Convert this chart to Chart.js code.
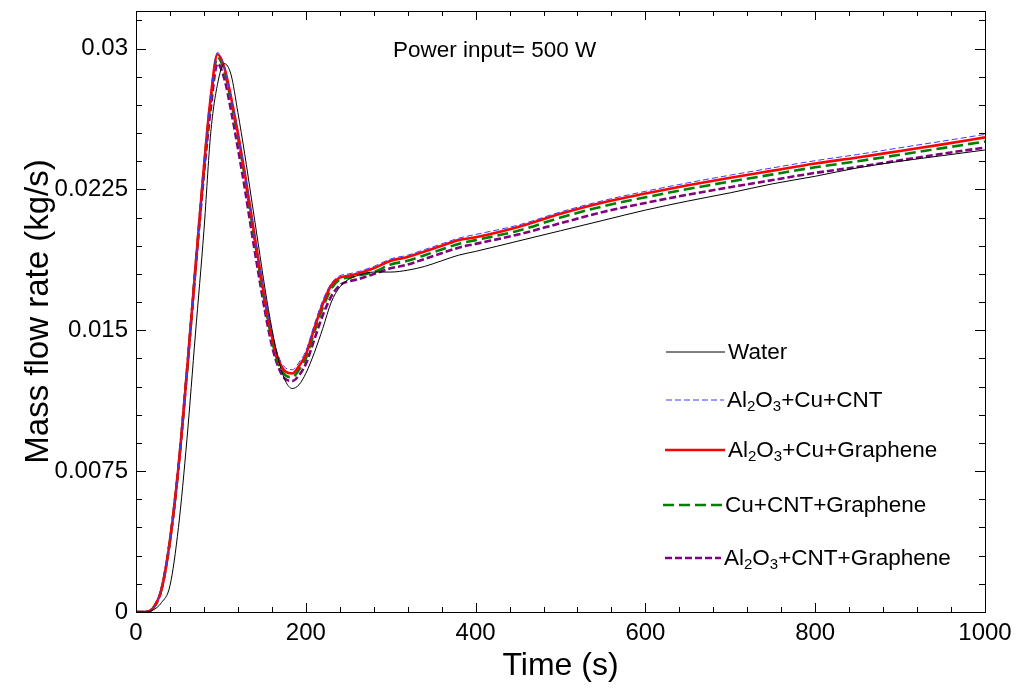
<!DOCTYPE html>
<html>
<head>
<meta charset="utf-8">
<script src="https://cdn.jsdelivr.net/npm/chart.js@4/dist/chart.umd.min.js"></script>
<style>
  html, body { margin: 0; padding: 0; background: #fff; }
  canvas { display: block; }
</style>
</head>
<body>
<canvas id="chart" width="1017" height="689"></canvas>
<script>
// ---- data ----
const timeS = [0, 10, 20, 30, 40, 50, 60, 70, 80, 88, 96, 104, 112, 120, 128, 136, 144, 152, 160, 168,
  176, 184, 192, 200, 210, 220, 230, 240, 250, 260, 280, 300, 320, 340, 360, 380, 400, 450, 500,
  550, 600, 650, 700, 750, 800, 850, 900, 950, 1000];

const water = [0, 0, 0.0001, 0.0005, 0.0014, 0.0045, 0.0092, 0.0148, 0.0203, 0.0255, 0.0281, 0.0292,
  0.0286, 0.0266, 0.0244, 0.0220, 0.0196, 0.0172, 0.0151, 0.0134, 0.0123, 0.0119, 0.0121, 0.0127,
  0.0138, 0.0151, 0.0165, 0.0173, 0.0177, 0.0179, 0.0181, 0.0181, 0.0182, 0.0184, 0.0187, 0.0190,
  0.0192, 0.01975, 0.0203, 0.02085, 0.0214, 0.02188, 0.02232, 0.0228, 0.0232, 0.02365, 0.0240,
  0.0243, 0.0246];

const alCuCnt = [0, 0, 0.0002, 0.0012, 0.0038, 0.0077, 0.0128, 0.0183, 0.0237, 0.0275, 0.0298, 0.0290,
  0.0274, 0.0256, 0.0235, 0.0212, 0.0189, 0.0167, 0.0149, 0.0136, 0.0130, 0.0129, 0.0133, 0.0139,
  0.0153, 0.0166, 0.0175, 0.0179, 0.0180, 0.0181, 0.0184, 0.0188, 0.0190, 0.0193, 0.0196, 0.0199,
  0.0201, 0.0206, 0.0213, 0.0219, 0.0224, 0.02285, 0.02326, 0.02365, 0.02403, 0.02436, 0.02472,
  0.02507, 0.02543];

const alCuGraphene = [0, 0, 0.0002, 0.0012, 0.0038, 0.0077, 0.0128, 0.0183, 0.0237, 0.0274, 0.0297, 0.0290,
  0.0274, 0.0255, 0.0234, 0.0211, 0.0188, 0.0166, 0.0147, 0.0134, 0.0128, 0.0127, 0.0131, 0.0137,
  0.0151, 0.0164, 0.0174, 0.0178, 0.0179, 0.0180, 0.0183, 0.0187, 0.0189, 0.0192, 0.0195, 0.0198,
  0.01995, 0.0205, 0.0212, 0.0218, 0.02228, 0.02272, 0.02312, 0.0235, 0.02388, 0.0242, 0.02455,
  0.0249, 0.02527];

const cuCntGraphene = [0, 0, 0.0002, 0.0012, 0.0038, 0.0077, 0.0128, 0.0183, 0.0236, 0.0273, 0.02955, 0.0288,
  0.0272, 0.0253, 0.0232, 0.0209, 0.0186, 0.0164, 0.0145, 0.0132, 0.0126, 0.0125, 0.0129, 0.0135,
  0.0149, 0.0162, 0.0172, 0.0177, 0.0178, 0.0179, 0.0181, 0.0185, 0.0187, 0.0190, 0.0193, 0.0196,
  0.0198, 0.0203, 0.0210, 0.0216, 0.02208, 0.02252, 0.02292, 0.0233, 0.02368, 0.0240, 0.02435,
  0.0247, 0.02505];

const alCntGraphene = [0, 0, 0.0002, 0.0012, 0.0038, 0.0077, 0.0128, 0.0182, 0.0233, 0.0268, 0.0292, 0.0284,
  0.0267, 0.0247, 0.0226, 0.0203, 0.0181, 0.0160, 0.0142, 0.0130, 0.0124, 0.0123, 0.0126, 0.0132,
  0.0145, 0.0158, 0.0168, 0.0174, 0.0176, 0.0177, 0.0180, 0.0183, 0.0185, 0.0188, 0.0191, 0.0194,
  0.0196, 0.0201, 0.0207, 0.0213, 0.02178, 0.02222, 0.02262, 0.0230, 0.02338, 0.0237, 0.02405,
  0.0244, 0.02473];

const seriesLabels = ['Water', 'Al2O3+Cu+CNT', 'Al2O3+Cu+Graphene', 'Cu+CNT+Graphene', 'Al2O3+CNT+Graphene'];
const xTicks = [0, 200, 400, 600, 800, 1000];
const xTickLabels = ['0', '200', '400', '600', '800', '1000'];
const yTicks = [0, 0.0075, 0.015, 0.0225, 0.03];
const yTickLabels = ['0', '0.0075', '0.015', '0.0225', '0.03'];
const note = 'Power input= 500 W';

// ---- styles ----
const FONT = '"Liberation Sans", Arial, sans-serif';
const styles = [
  { color: '#000000', width: 1, dash: [] },
  { color: '#3b3bff', width: 1, dash: [6, 3] },
  { color: '#ff0000', width: 2.6, dash: [] },
  { color: '#008000', width: 2.6, dash: [11, 5] },
  { color: '#800080', width: 2.6, dash: [7, 3] },
];
const seriesValues = [water, alCuCnt, alCuGraphene, cuCntGraphene, alCntGraphene];

const datasets = seriesValues.map((vals, i) => ({
  label: seriesLabels[i],
  data: timeS.map((t, k) => ({ x: t, y: vals[k] })),
  borderColor: styles[i].color,
  borderWidth: styles[i].width,
  borderDash: styles[i].dash,
  pointRadius: 0,
  fill: false,
  cubicInterpolationMode: 'monotone',
}));

// subscript every digit of a chemical label
function drawRich(ctx, text, x, y, size) {
  const parts = text.split(/(\d)/).filter(s => s.length);
  for (const p of parts) {
    const sub = /^\d$/.test(p);
    ctx.font = (sub ? Math.round(size * 0.68) : size) + 'px ' + FONT;
    ctx.fillText(p, x, sub ? y + size * 0.28 : y);
    x += ctx.measureText(p).width;
  }
}

const decorations = {
  id: 'decorations',
  afterDraw(chart) {
    const { ctx, chartArea: a, scales: { x, y } } = chart;
    ctx.save();
    ctx.strokeStyle = '#000';
    ctx.lineWidth = 1;
    ctx.setLineDash([]);
    ctx.strokeRect(a.left + 0.5, a.top + 0.5, a.right - a.left, a.bottom - a.top);

    // inward ticks on all four sides
    ctx.beginPath();
    for (let t = 0; t <= 1000; t += 40) {
      const px = Math.round(x.getPixelForValue(t)) + 0.5;
      const len = t % 200 === 0 ? 9 : 5;
      ctx.moveTo(px, a.bottom); ctx.lineTo(px, a.bottom - len);
      ctx.moveTo(px, a.top); ctx.lineTo(px, a.top + len);
    }
    for (let k = 0; k <= 21; k++) {
      const v = k * 0.0015;
      const py = Math.round(y.getPixelForValue(v)) + 0.5;
      const len = k % 5 === 0 ? 10 : 6;
      ctx.moveTo(a.left, py); ctx.lineTo(a.left + len, py);
      ctx.moveTo(a.right, py); ctx.lineTo(a.right - len, py);
    }
    ctx.stroke();

    // annotation
    ctx.fillStyle = '#000';
    ctx.textBaseline = 'middle';
    ctx.textAlign = 'left';
    ctx.font = '22.5px ' + FONT;
    ctx.fillText(note, 393, 51);

    // legend
    const rows = [352, 400, 450, 505, 558];
    const lineX = [[666, 725], [666, 724], [665, 725], [663, 722], [665, 721]];
    rows.forEach((ry, i) => {
      ctx.strokeStyle = styles[i].color;
      ctx.lineWidth = styles[i].width;
      ctx.setLineDash(styles[i].dash);
      ctx.beginPath();
      ctx.moveTo(lineX[i][0], ry);
      ctx.lineTo(lineX[i][1], ry);
      ctx.stroke();
      ctx.fillStyle = '#000';
      drawRich(ctx, seriesLabels[i], lineX[i][1] + 3, ry + 1, 22.5);
    });
    ctx.restore();
  }
};

new Chart(document.getElementById('chart'), {
  type: 'line',
  data: { datasets },
  options: {
    responsive: false,
    devicePixelRatio: 1,
    animation: false,
    layout: { padding: { top: 11, right: 32, left: 0, bottom: 0 } },
    plugins: { legend: { display: false }, tooltip: { enabled: false } },
    scales: {
      x: {
        type: 'linear', min: 0, max: 1000,
        afterBuildTicks: s => { s.ticks = xTicks.map(v => ({ value: v })); },
        afterFit: s => { s.height = 77; s.paddingLeft = 0; s.paddingRight = 0; },
        grid: { display: false, drawTicks: false },
        border: { display: false },
        ticks: { color: '#000', padding: 7, maxRotation: 0, font: { family: FONT, size: 24 },
          callback: (v, i) => xTickLabels[i] },
        title: { display: true, text: 'Time (s)', color: '#000', padding: { top: 0, bottom: 4 },
          font: { family: FONT, size: 32 } },
      },
      y: {
        type: 'linear', min: 0, max: 0.032,
        afterBuildTicks: s => { s.ticks = yTicks.map(v => ({ value: v })); },
        afterFit: s => { s.width = 136; s.paddingTop = 0; s.paddingBottom = 0; },
        grid: { display: false, drawTicks: false },
        border: { display: false },
        ticks: { color: '#000', padding: 8, font: { family: FONT, size: 24 },
          callback: (v, i) => yTickLabels[i] },
        title: { display: true, text: 'Mass flow rate (kg/s)', color: '#000', padding: { top: 19, bottom: 0 },
          font: { family: FONT, size: 33 } },
      },
    },
  },
  plugins: [decorations],
});
</script>
</body>
</html>
